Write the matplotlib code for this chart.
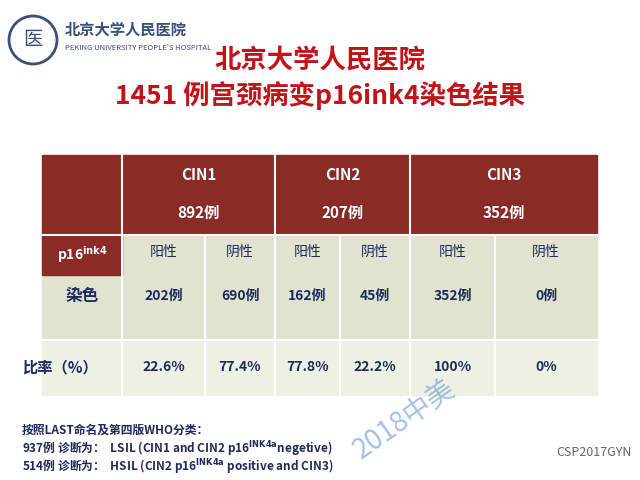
import matplotlib.pyplot as plt
from matplotlib.patches import Rectangle

plt.rcParams['font.family'] = ['Noto Sans CJK SC', 'DejaVu Sans']

groups = ['CIN1', 'CIN2', 'CIN3']
group_totals = ['892例', '207例', '352例']
sub_labels = ['阳性', '阴性', '阳性', '阴性', '阳性', '阴性']
counts = ['202例', '690例', '162例', '45例', '352例', '0例']
rates = ['22.6%', '77.4%', '77.8%', '22.2%', '100%', '0%']

fig = plt.figure(figsize=(6.4, 4.8), dpi=100)
ax = fig.add_axes([0, 0, 1, 1])
ax.set_xlim(0, 640)
ax.set_ylim(480, 0)
ax.axis('off')

red = '#8b2b26'
navy = '#1f2a5c'
green = '#dfe3cf'
light = '#eef0e4'

# title
ax.text(320, 60, '北京大学人民医院', color='#c0141b', fontsize=19, fontweight='bold', ha='center', va='center')
ax.text(320, 96, '1451 例宫颈病变p16ink4染色结果', color='#c0141b', fontsize=19, fontweight='bold', ha='center', va='center')

# logo-ish header
ax.add_patch(plt.Circle((33, 40), 24, fill=False, ec='#3b4f7a', lw=2))
ax.text(33, 40, '医', color='#3b4f7a', fontsize=14, ha='center', va='center')
ax.text(65, 30, '北京大学人民医院', color='#3b4f7a', fontsize=11, fontweight='bold', va='center')
ax.text(65, 48, "PEKING UNIVERSITY PEOPLE'S HOSPITAL", color='#3b4f7a', fontsize=5.5, va='center')

cols = [42, 122, 205, 275, 340, 410, 495, 597]
y0, y1, y2, y3, y4 = 155, 235, 275, 340, 395

ax.add_patch(Rectangle((cols[0], y0), cols[-1] - cols[0], y1 - y0, color=red))
ax.add_patch(Rectangle((cols[0], y1), cols[-1] - cols[0], y3 - y1, color=green))
ax.add_patch(Rectangle((cols[0], y1), cols[1] - cols[0], y2 - y1, color=red))
ax.add_patch(Rectangle((cols[0], y3), cols[-1] - cols[0], y4 - y3, color=light))

for x in [cols[1], cols[3], cols[5]]:
    ax.plot([x, x], [y0, y4], color='white', lw=1.5)
for x in [cols[2], cols[4], cols[6]]:
    ax.plot([x, x], [y1, y4], color='white', lw=1.5)
for y in [y1, y3]:
    ax.plot([cols[0], cols[-1]], [y, y], color='white', lw=1.5)

for i, (g, t) in enumerate(zip(groups, group_totals)):
    cx = (cols[1 + 2 * i] + cols[3 + 2 * i]) / 2
    ax.text(cx, 175, g, color='white', fontsize=11, fontweight='bold', ha='center', va='center')
    ax.text(cx, 213, t, color='white', fontsize=11, fontweight='bold', ha='center', va='center')

ax.text(82, 255, r'p16$^{\mathbf{ink4}}$', color='white', fontsize=10, fontweight='bold', ha='center', va='center')
ax.text(82, 296, '染色', color=navy, fontsize=12, fontweight='bold', ha='center', va='center')
ax.text(22, 367, '比率（%）', color=navy, fontsize=11, fontweight='bold', va='center')

for i in range(6):
    cx = (cols[1 + i] + cols[2 + i]) / 2
    ax.text(cx, 252, sub_labels[i], color=navy, fontsize=10, ha='center', va='center')
    ax.text(cx, 296, counts[i], color=navy, fontsize=10, fontweight='bold', ha='center', va='center')
    ax.text(cx, 367, rates[i], color=navy, fontsize=10, fontweight='bold', ha='center', va='center')

ax.text(405, 420, '2018中美', color='#5b8fd0', alpha=0.55, fontsize=20, rotation=35, ha='center', va='center')

ax.text(22, 430, '按照LAST命名及第四版WHO分类：', color=navy, fontsize=8.5, fontweight='bold', va='center')
ax.text(22, 449, r'937例 诊断为：  LSIL (CIN1 and CIN2 p16$^{\mathbf{INK4a}}$negetive)', color=navy, fontsize=8.5, fontweight='bold', va='center')
ax.text(22, 467, r'514例 诊断为：  HSIL (CIN2 p16$^{\mathbf{INK4a}}$ positive and CIN3)', color=navy, fontsize=8.5, fontweight='bold', va='center')
ax.text(632, 452, 'CSP2017GYN', color='#666666', fontsize=9, ha='right', va='center')

fig.savefig('out.png', dpi=100)
